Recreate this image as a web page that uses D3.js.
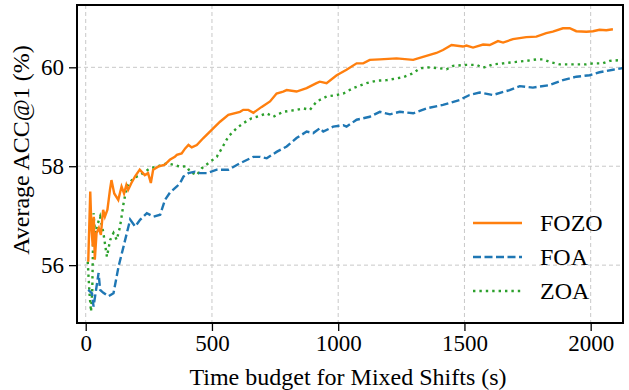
<!DOCTYPE html>
<meta charset="utf-8">
<style>
    body { margin: 0; background: white; }
    svg { display: block; }
    text { font-family: "Liberation Serif", "Times New Roman", Times, serif; fill: black; }
    .grid line { stroke: #c8c8c8; stroke-width: 1; stroke-dasharray: 4,3; }
    .axis line { stroke: black; stroke-width: 1.3; }
    .axis path { display: none; }
</style>
<body>
<svg width="629" height="390"></svg>
<script src="https://d3js.org/d3.v7.min.js"></script>
<script>
    // time (s) and average ACC@1 (%)
    var fozoT = [10, 18, 23, 28, 32, 36, 43, 52, 60, 69, 76, 86, 96, 102, 113, 129, 142, 152, 161, 168, 181, 195, 214, 234, 247, 258, 267, 287, 313, 333, 353, 361, 380, 394, 407, 420, 440, 466, 492, 532, 565, 611, 624, 644, 664, 697, 730, 756, 782, 796, 835, 875, 914, 927, 954, 994, 1033, 1073, 1099, 1125, 1165, 1231, 1297, 1336, 1389, 1415, 1449, 1494, 1508, 1534, 1574, 1600, 1633, 1653, 1692, 1745, 1785, 1824, 1850, 1890, 1917, 1943, 1983, 2009, 2035, 2062, 2088];
    var fozoV = [56.07, 57.49, 56.71, 56.38, 56.98, 56.11, 56.65, 56.75, 56.61, 57.12, 56.98, 57.12, 57.52, 57.72, 57.45, 57.32, 57.59, 57.45, 57.62, 57.52, 57.66, 57.79, 57.93, 57.82, 57.86, 57.66, 57.93, 57.99, 58.03, 58.13, 58.19, 58.23, 58.26, 58.36, 58.43, 58.38, 58.43, 58.57, 58.70, 58.90, 59.04, 59.10, 59.14, 59.14, 59.08, 59.20, 59.31, 59.47, 59.51, 59.54, 59.51, 59.58, 59.68, 59.71, 59.68, 59.84, 59.95, 60.08, 60.08, 60.15, 60.16, 60.18, 60.15, 60.21, 60.29, 60.35, 60.45, 60.42, 60.44, 60.40, 60.46, 60.45, 60.53, 60.50, 60.57, 60.61, 60.62, 60.69, 60.72, 60.79, 60.79, 60.73, 60.72, 60.73, 60.76, 60.75, 60.77];

    var foaT = [10, 25, 31, 51, 57, 70, 90, 110, 130, 150, 176, 196, 216, 242, 268, 295, 314, 334, 361, 374, 387, 407, 433, 453, 479, 519, 565, 611, 664, 690, 717, 756, 796, 835, 875, 901, 928, 941, 980, 1020, 1033, 1073, 1125, 1165, 1205, 1244, 1297, 1350, 1415, 1481, 1520, 1560, 1613, 1679, 1719, 1771, 1837, 1890, 1943, 1996, 2035, 2088, 2131, 2160];
    var foaV = [55.5, 55.43, 55.16, 55.84, 55.5, 55.44, 55.37, 55.43, 55.97, 56.38, 56.92, 56.78, 56.92, 57.05, 56.98, 57.02, 57.32, 57.47, 57.59, 57.66, 57.79, 57.86, 57.89, 57.86, 57.86, 57.93, 57.93, 58.06, 58.19, 58.19, 58.16, 58.29, 58.40, 58.57, 58.70, 58.67, 58.77, 58.70, 58.80, 58.83, 58.80, 58.94, 59.00, 59.10, 59.05, 59.10, 59.07, 59.17, 59.24, 59.34, 59.44, 59.49, 59.44, 59.54, 59.62, 59.59, 59.64, 59.74, 59.81, 59.84, 59.90, 59.95, 59.99, 60.03];

    var zoaT = [8, 12, 15, 21, 26, 31, 38, 44, 57, 70, 84, 97, 110, 123, 136, 150, 163, 189, 216, 255, 282, 321, 347, 374, 400, 413, 440, 460, 493, 519, 539, 565, 598, 624, 657, 677, 717, 743, 782, 835, 862, 888, 915, 954, 994, 1020, 1059, 1112, 1152, 1192, 1257, 1297, 1323, 1363, 1403, 1429, 1455, 1508, 1548, 1574, 1613, 1653, 1706, 1745, 1785, 1811, 1837, 1877, 1930, 1983, 2009, 2048, 2075, 2127, 2160];
    var zoaV = [56.07, 55.7, 55.43, 55.06, 55.5, 57.05, 56.58, 56.78, 56.98, 56.65, 56.17, 56.51, 56.65, 56.51, 56.78, 57.25, 57.59, 57.76, 57.82, 57.96, 57.99, 58.06, 58.03, 57.99, 58.0, 57.89, 57.82, 57.96, 58.09, 58.19, 58.36, 58.60, 58.77, 58.87, 58.97, 59.00, 59.07, 59.00, 59.10, 59.14, 59.17, 59.14, 59.31, 59.41, 59.44, 59.47, 59.58, 59.68, 59.73, 59.74, 59.80, 59.88, 59.98, 60.0, 59.98, 59.96, 60.03, 60.05, 60.05, 59.99, 60.06, 60.08, 60.11, 60.13, 60.16, 60.16, 60.11, 60.06, 60.06, 60.06, 60.08, 60.08, 60.13, 60.15, 60.16];

    var seriesNames = ["FOZO", "FOA", "ZOA"];
    var seriesColors = ["#ff7f0e", "#1f77b4", "#2ca02c"];
    var seriesDash = [null, "8,3.5", "2.4,4"];
    var xTicks = [0, 500, 1000, 1500, 2000];
    var yTicks = [56, 58, 60];

    var svg = d3.select("svg");
    var margin = {top: 5, right: 6, bottom: 67, left: 77};
    var width = 629 - margin.left - margin.right,
        height = 390 - margin.top - margin.bottom;

    var x = d3.scaleLinear().domain([-34.5, 2128]).range([0, width]);
    var y = d3.scaleLinear().domain([54.83, 61.26]).range([height, 0]);

    var g = svg.append("g").attr("transform", "translate(" + margin.left + "," + margin.top + ")");

    // grid
    var grid = g.append("g").attr("class", "grid");
    grid.selectAll(".gx").data(xTicks).enter().append("line")
        .attr("x1", function(d) { return x(d); }).attr("x2", function(d) { return x(d); })
        .attr("y1", 0).attr("y2", height);
    grid.selectAll(".gy").data(yTicks).enter().append("line")
        .attr("y1", function(d) { return y(d); }).attr("y2", function(d) { return y(d); })
        .attr("x1", 0).attr("x2", width);

    g.append("clipPath").attr("id", "clip")
        .append("rect").attr("width", width).attr("height", height);

    var line = d3.line()
        .x(function(d) { return x(d[0]); })
        .y(function(d) { return y(d[1]); });

    var allT = [fozoT, foaT, zoaT];
    var allV = [fozoV, foaV, zoaV];

    // draw ZOA first then FOA then FOZO on top
    [2, 1, 0].forEach(function(i) {
        var pts = allT[i].map(function(t, j) { return [t, allV[i][j]]; });
        g.append("path")
            .datum(pts)
            .attr("clip-path", "url(#clip)")
            .attr("fill", "none")
            .attr("stroke", seriesColors[i])
            .attr("stroke-width", 2.4)
            .attr("stroke-dasharray", seriesDash[i])
            .attr("d", line);
    });

    // axes
    var xAxis = g.append("g").attr("class", "axis")
        .attr("transform", "translate(0," + height + ")")
        .call(d3.axisBottom(x).tickValues(xTicks).tickSize(8).tickPadding(4).tickFormat(d3.format("d")));
    var yAxis = g.append("g").attr("class", "axis")
        .call(d3.axisLeft(y).tickValues(yTicks).tickSize(8).tickPadding(5).tickFormat(d3.format("d")));
    svg.selectAll(".axis text")
        .attr("font-family", "Liberation Serif, Times New Roman, serif")
        .attr("font-size", "23px")
        .attr("fill", "black");

    g.append("rect")
        .attr("width", width).attr("height", height)
        .attr("fill", "none").attr("stroke", "black").attr("stroke-width", 2);

    // axis labels
    svg.append("text")
        .attr("x", margin.left + width / 2 - 2).attr("y", 385)
        .attr("text-anchor", "middle").attr("font-size", "24px")
        .text("Time budget for Mixed Shifts (s)");
    svg.append("text")
        .attr("transform", "translate(29," + 150 + ") rotate(-90)")
        .attr("text-anchor", "middle").attr("font-size", "24px")
        .text("Average ACC@1 (%)");

    // legend
    var leg = g.append("g").attr("transform", "translate(396,218)");
    seriesNames.forEach(function(name, i) {
        var row = leg.append("g").attr("transform", "translate(0," + (i * 34) + ")");
        row.append("line")
            .attr("x1", 0).attr("x2", 49)
            .attr("stroke", seriesColors[i])
            .attr("stroke-width", 2.4)
            .attr("stroke-dasharray", seriesDash[i]);
        row.append("text")
            .attr("x", 67).attr("y", 8)
            .attr("font-size", "24px")
            .text(name);
    });
</script>
</body>
